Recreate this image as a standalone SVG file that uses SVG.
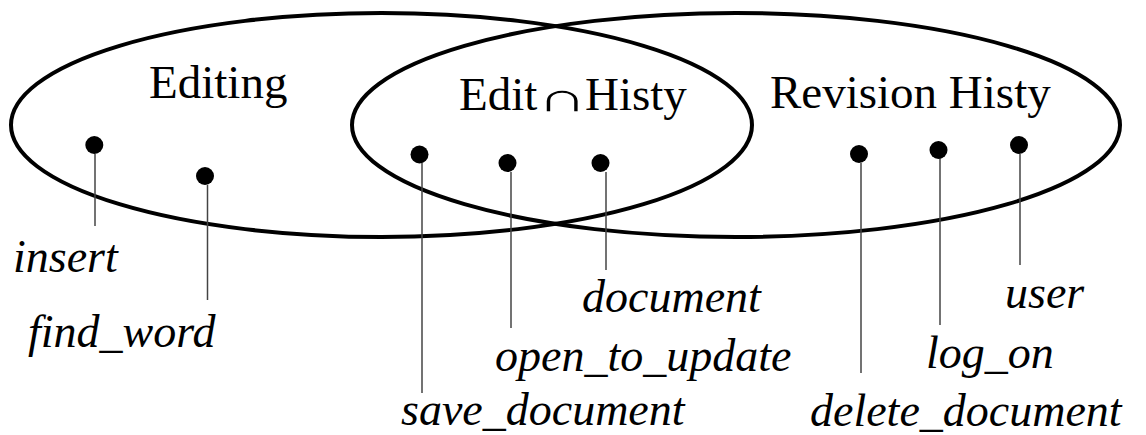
<svg xmlns="http://www.w3.org/2000/svg" width="1146" height="435" viewBox="0 0 1146 435">
  <style>
    .set { fill: none; stroke: #000; stroke-width: 4; }
    .title { font-family: "Liberation Serif", "Times New Roman", serif; font-size: 47px; fill: #000; }
    .cap { font-family: "Liberation Serif", "Times New Roman", serif; font-size: 55px; fill: #000; }
    .label { font-family: "Liberation Serif", "Times New Roman", serif; font-size: 46px; font-style: italic; fill: #000; }
    .dot { fill: #000; }
    .lead { stroke: #444; stroke-width: 1.5; fill: none; }
  </style>
  <rect width="1146" height="435" fill="#fff"/>

  <!-- the two sets -->
  <g id="set-editing">
    <ellipse class="set" cx="381.5" cy="125" rx="370.5" ry="112"/>
    <text class="title" x="149" y="98">Editing</text>
  </g>
  <g id="set-revision-history">
    <ellipse class="set" cx="736" cy="125" rx="384" ry="112"/>
    <text class="title" x="770" y="108">Revision Histy</text>
  </g>
  <g id="set-intersection">
    <text class="title" x="459" y="110">Edit</text>
    <text class="cap" transform="translate(537 111) scale(1.24 0.73)">∩</text>
    <text class="title" x="585" y="110">Histy</text>
  </g>

  <!-- leader lines from each element to its name -->
  <g id="connectors">
    <line class="lead" x1="95" y1="154" x2="95" y2="226"/>
    <line class="lead" x1="207.5" y1="185" x2="207.5" y2="300"/>
    <line class="lead" x1="422" y1="163" x2="422" y2="393"/>
    <line class="lead" x1="511" y1="172" x2="511" y2="328"/>
    <line class="lead" x1="606" y1="172" x2="606" y2="270"/>
    <line class="lead" x1="861" y1="163" x2="861" y2="373"/>
    <line class="lead" x1="940" y1="158" x2="940" y2="325"/>
    <line class="lead" x1="1020" y1="154" x2="1020" y2="265"/>
  </g>

  <!-- elements -->
  <g id="insert">
    <circle class="dot" cx="94.3" cy="145" r="9"/>
    <text class="label" x="13" y="272">insert</text>
  </g>
  <g id="find_word">
    <circle class="dot" cx="205" cy="176" r="9"/>
    <text class="label" x="28" y="347">find_word</text>
  </g>
  <g id="save_document">
    <circle class="dot" cx="419.5" cy="154.5" r="9"/>
    <text class="label" x="401" y="425">save_document</text>
  </g>
  <g id="open_to_update">
    <circle class="dot" cx="507.5" cy="163" r="9"/>
    <text class="label" x="495" y="371">open_to_update</text>
  </g>
  <g id="document">
    <circle class="dot" cx="600.5" cy="163" r="9"/>
    <text class="label" x="582" y="312">document</text>
  </g>
  <g id="delete_document">
    <circle class="dot" cx="859" cy="154" r="9"/>
    <text class="label" x="810" y="426">delete_document</text>
  </g>
  <g id="log_on">
    <circle class="dot" cx="938.5" cy="150" r="9"/>
    <text class="label" x="926" y="368">log_on</text>
  </g>
  <g id="user">
    <circle class="dot" cx="1019" cy="145" r="9"/>
    <text class="label" x="1005" y="308">user</text>
  </g>
</svg>
